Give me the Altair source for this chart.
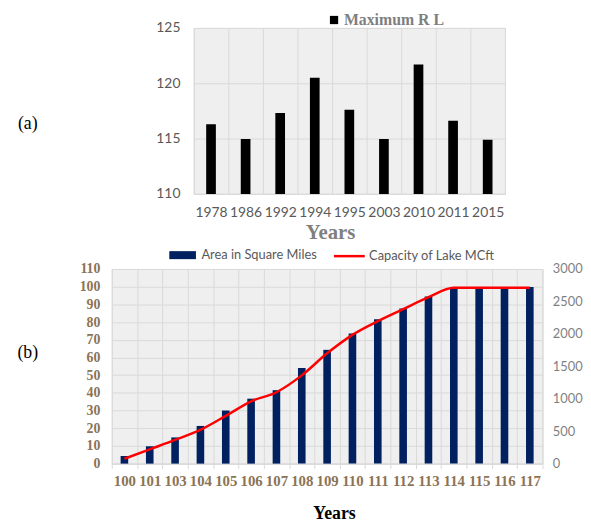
import altair as alt
import pandas as pd

# ---- data (a)
years_a = ["1978", "1986", "1992", "1994", "1995", "2003", "2010", "2011", "2015"]
max_rl = [116.3, 114.95, 117.3, 120.5, 117.6, 114.95, 121.7, 116.6, 114.9]
ticks_a = [110, 115, 120, 125]
base_a = 110

# ---- data (b)
years_b = ["100", "101", "103", "104", "105", "106", "107", "108", "109",
           "110", "111", "112", "113", "114", "115", "116", "117"]
area_sq_miles = [4.3, 9.8, 14.8, 21.3, 30.0, 36.7, 41.5, 54.0, 64.3,
                 73.6, 81.6, 87.7, 94.4, 99.8, 99.8, 99.8, 99.8]
capacity_mcft = [75, 220, 365, 520, 735, 960, 1100, 1360, 1700,
                 1985, 2195, 2380, 2565, 2710, 2710, 2710, 2710]
ticks_left_b = list(range(0, 111, 10))
ticks_right_b = list(range(0, 3001, 500))
panel_labels = ["(a)", "(b)"]

SERIF = "Liberation Serif"
SANS = "Lato"
GRID = "#d9d9d9"
BROWN = "#8b7355"
NOVIEW = alt.ViewBackground(fill="transparent", stroke="transparent")

df_a = pd.DataFrame({"Year": years_a, "RL": max_rl, "s": "Maximum R L"})

top = alt.Chart(df_a).mark_bar(width=alt.RelativeBandSize(0.28), clip=True).encode(
    x=alt.X("Year:N", sort=years_a,
            scale=alt.Scale(paddingInner=0, paddingOuter=0),
            axis=alt.Axis(title="Years", labelAngle=0, tickBand="extent", grid=True,
                          gridColor=GRID, ticks=False, domainColor=GRID,
                          labelFont=SANS, labelFontSize=14, labelColor="#595959",
                          labelPadding=12,
                          titleFont=SERIF, titleFontSize=21, titleFontWeight="bold",
                          titleColor="#7f7f7f", titleX=138, titleY=39,
                          titleAlign="center", titleBaseline="middle")),
    y=alt.Y("RL:Q", scale=alt.Scale(domain=[110, 125], zero=False, nice=False),
            axis=alt.Axis(values=ticks_a, title=None, grid=True, gridColor=GRID,
                          domain=False, ticks=False, labelFont=SANS, labelFontSize=14,
                          labelColor="#595959", labelPadding=14)),
    y2=alt.datum(base_a),
    fill=alt.Fill("s:N", title=None,
                  scale=alt.Scale(domain=["Maximum R L"], range=["#000000"]),
                  legend=alt.Legend(orient="none", legendX=134, legendY=-16,
                                    symbolType="square", symbolSize=70,
                                    symbolStrokeWidth=0, labelFont=SERIF,
                                    labelFontSize=16, labelFontWeight="bold",
                                    labelColor="#7f7f7f", labelOffset=2)),
).properties(width=315, height=168)

label_a = alt.Chart(pd.DataFrame({"t": [panel_labels[0]]})).mark_text(
    font=SERIF, fontSize=18, color="#000000", dy=13
).encode(text="t:N").properties(width=38, height=168, view=NOVIEW)

df_b = pd.DataFrame({"Year": years_b, "Area": area_sq_miles, "Capacity": capacity_mcft,
                     "s1": "Area in Square Miles", "s2": "Capacity of Lake MCft"})

xb = alt.X("Year:N", sort=years_b, scale=alt.Scale(paddingInner=0, paddingOuter=0),
           axis=alt.Axis(title="Years", labelAngle=0, tickBand="extent", grid=True,
                         gridColor=GRID, ticks=True, tickColor=GRID, tickSize=5,
                         domainColor=GRID, labelFont=SERIF, labelFontSize=15,
                         labelFontWeight="bold", labelColor=BROWN, labelPadding=5,
                         titleFont=SERIF, titleFontSize=18, titleFontWeight="bold",
                         titleColor="#000000", titleX=225, titleY=51,
                         titleAlign="center", titleBaseline="middle"))

bars_b = alt.Chart(df_b).mark_bar(width=alt.RelativeBandSize(0.3)).encode(
    x=xb,
    y=alt.Y("Area:Q", scale=alt.Scale(domain=[0, 110], nice=False),
            axis=alt.Axis(values=ticks_left_b, title=None, grid=True, gridColor=GRID,
                          domain=False, ticks=False, labelFont=SERIF, labelFontSize=14,
                          labelFontWeight="bold", labelColor=BROWN, labelPadding=12)),
    fill=alt.Fill("s1:N", title=None,
                  scale=alt.Scale(domain=["Area in Square Miles"], range=["#002060"]),
                  legend=alt.Legend(orient="none", legendX=64.75, legendY=-21,
                                    symbolType="M-2,-0.6H2V0.6H-2Z",
                                    symbolSize=182, symbolStrokeWidth=0,
                                    labelFont=SANS, labelFontSize=13,
                                    labelColor="#595959", labelOffset=12)),
)

line_b = alt.Chart(df_b).mark_line(interpolate="monotone", strokeWidth=2.5).encode(
    x=alt.X("Year:N", sort=years_b),
    y=alt.Y("Capacity:Q", scale=alt.Scale(domain=[0, 3000], nice=False),
            axis=alt.Axis(values=ticks_right_b, orient="right", title=None, grid=False,
                          format="d", domain=False, ticks=False, labelFont=SANS,
                          labelFontSize=13, labelColor="#7f7f7f", labelPadding=10)),
    stroke=alt.Stroke("s2:N", title=None,
                      scale=alt.Scale(domain=["Capacity of Lake MCft"], range=["#ff0000"]),
                      legend=alt.Legend(orient="none", legendX=232.5, legendY=-21,
                                        symbolType="M-2.4,0H2.4", symbolSize=169,
                                        symbolStrokeWidth=2.5,
                                        labelFont=SANS, labelFontSize=13,
                                        labelColor="#595959", labelOffset=12)),
)

bottom = alt.layer(bars_b, line_b).resolve_scale(y="independent").properties(
    width=436, height=197)

label_b = alt.Chart(pd.DataFrame({"t": [panel_labels[1]]})).mark_text(
    font=SERIF, fontSize=18, color="#000000", dy=-13
).encode(text="t:N").properties(width=38, height=197, view=NOVIEW)

row_a = alt.hconcat(label_a, top, spacing=109).resolve_scale(
    fill="independent").resolve_legend(fill="independent")
row_b = alt.hconcat(label_b, bottom, spacing=31).resolve_scale(
    fill="independent", stroke="independent").resolve_legend(
    fill="independent", stroke="independent")

chart = alt.vconcat(row_a, row_b, spacing=4).resolve_scale(
    fill="independent", stroke="independent", x="independent"
).resolve_legend(fill="independent", stroke="independent").properties(
    padding={"left": 0, "top": 0, "right": 0, "bottom": 0}
).configure_view(fill="#efefef", stroke=GRID)

chart.save("out.html", embed_options={"renderer": "svg", "actions": False})
